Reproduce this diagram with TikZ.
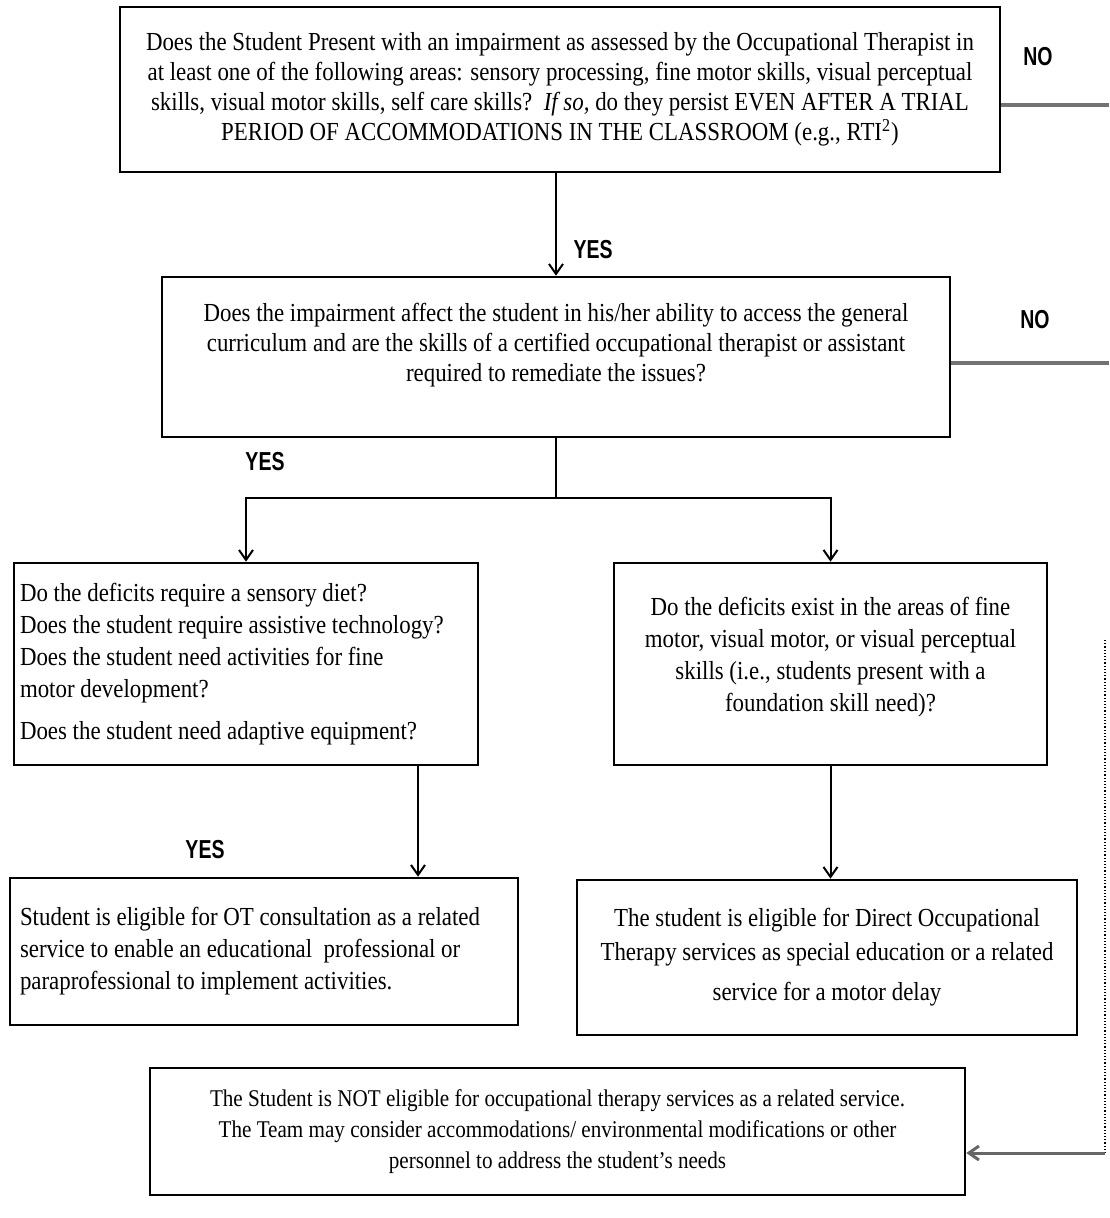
\documentclass[tikz,border=0pt]{standalone}
\usepackage{fontspec}
\setmainfont[FakeStretch=0.88]{Liberation Serif}
\newfontfamily\answerfont[FakeStretch=0.75]{Liberation Sans}
\usetikzlibrary{arrows.meta}

\begin{document}
\begin{tikzpicture}[x=0.5pt,y=-0.5pt,font=\fontsize{13}{15}\selectfont]
	\tikzstyle{box} = [draw=black, line width=1.3pt, align=center, inner sep=4pt]
	\tikzstyle{leftbox} = [box, align=flush left]
	\tikzstyle{arrow} = [draw=black, line width=1pt, -{Straight Barb[length=5pt,width=7pt]}]
	\tikzstyle{noline} = [draw=black!55, line width=2.2pt]
	\tikzstyle{answer} = [font=\answerfont\bfseries\fontsize{13}{13}\selectfont]
	\useasboundingbox (0,0) rectangle (1109,1218);
		\node[box, minimum width=440pt, minimum height=82.5pt] (present) at (560,89.5) {Does the Student Present with an impairment as assessed by the Occupational Therapist in\\ at least one of the following areas: sensory processing, fine motor skills, visual perceptual\\ skills, visual motor skills, self care skills?\ \ \textit{If so,} do they persist EVEN AFTER A TRIAL\\ PERIOD OF ACCOMMODATIONS IN THE CLASSROOM (e.g., RTI\textsuperscript{2})};
		\node[box, minimum width=394pt, minimum height=80pt] (access) at (556,357) {Does the impairment affect the student in his/her ability to access the general\\ curriculum and are the skills of a certified occupational therapist or assistant\\ required to remediate the issues?\\ \mbox{}};
		\node[leftbox, text width=226pt, inner xsep=3pt, minimum height=101pt, font=\fontsize{13}{16}\selectfont] (diet) at (246,664) {Do the deficits require a sensory diet?\\ Does the student require assistive technology?\\ Does the student need activities for fine\\ motor development?\\[5pt] Does the student need adaptive equipment?};
		\node[box, minimum width=216.5pt, minimum height=101pt, font=\fontsize{13}{16}\selectfont] (fine) at (830.5,664) {Do the deficits exist in the areas of fine\\ motor, visual motor, or visual perceptual\\ skills (i.e., students present with a\\ foundation skill need)?\\[-6pt] \mbox{}};
		\node[leftbox, text width=244pt, inner xsep=5pt, minimum height=73.5pt, font=\fontsize{13}{16}\selectfont] (consult) at (264,951.5) {Student is eligible for OT consultation as a related\\ service to enable an educational\ \ professional or\\ paraprofessional to implement activities.};
		\node[box, minimum width=250pt, minimum height=77.5pt] (direct) at (827,957.5) {The student is eligible for Direct Occupational\\[2pt] Therapy services as special education or a related\\[5pt] service for a motor delay};
		\node[box, minimum width=407.5pt, minimum height=63.5pt, font=\fontsize{12}{15.5}\selectfont] (noteligible) at (557.5,1131.5) {The Student is NOT eligible for occupational therapy services as a related service.\\ The Team may consider accommodations/ environmental modifications or other\\ personnel to address the student's needs};
		\node[answer] (no1) at (1038,57) {NO};
		\node[answer] (no2) at (1035,320) {NO};
		\node[answer] (yes1) at (593,250) {YES};
		\node[answer] (yes2) at (265,462) {YES};
		\node[answer] (yes3) at (205,850) {YES};
	\coordinate (split) at (556,498);
	\coordinate (edge1) at (1109,105);
	\coordinate (edge2) at (1109,363);
	\coordinate (back) at (1105,640);
	\coordinate (return) at ([yshift=-10.75pt]noteligible.east);
	\draw[arrow] (present.south -| access.north) -- (access.north);
	\draw[line width=1pt] (access.south) -- (split);
	\draw[arrow] (split) -| (diet.north);
	\draw[arrow] (split) -| (fine.north);
	\draw[arrow] ([xshift=86pt]diet.south) -- ([xshift=86pt]diet.south |- consult.north);
	\draw[arrow] (fine.south) -- (fine.south |- direct.north);
	\draw[noline] (present.east |- edge1) -- (edge1);
	\draw[noline] (access.east |- edge2) -- (edge2);
	\draw[densely dotted, line width=0.6pt] (back) -- (back |- return);
	\draw[arrow, draw=black!60, line width=1.5pt] (back |- return) -- (return);
\end{tikzpicture}
\end{document}
